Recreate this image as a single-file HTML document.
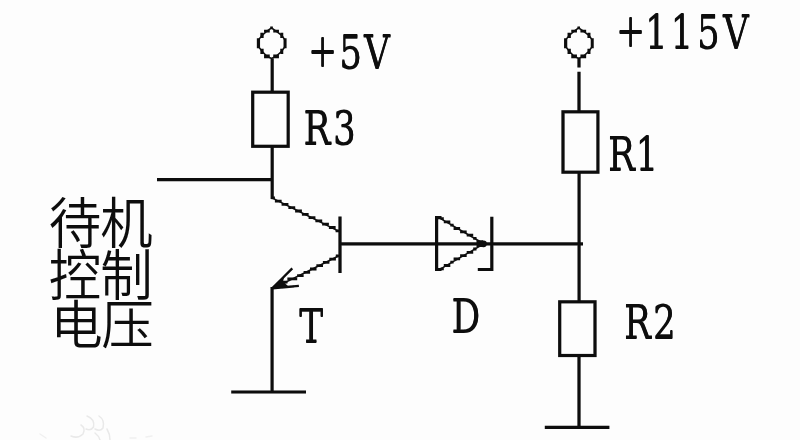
<!DOCTYPE html>
<html lang="zh-CN">
<head>
<meta charset="utf-8">
<title>待机控制电压</title>
<style>
  html, body { margin: 0; padding: 0; background: #fdfdfd; }
  body { width: 800px; height: 440px; overflow: hidden; }
  svg { display: block; }
  .w { fill: none; stroke: #0b0b0b; stroke-width: 3.2; stroke-linecap: butt; stroke-linejoin: miter; }
  .px { fill: #0b0b0b; }
  .j { fill: none; stroke: #0b0b0b; stroke-width: 1.5; }
  .d { stroke-width: 2.3; stroke-linejoin: round; }
  .lat { font-family: "DejaVu Serif", "Liberation Serif", serif; font-size: 47px; fill: #0b0b0b; text-anchor: middle; }
  .pl { font-family: "Liberation Serif", serif; font-size: 62px; }
  .cjk { font-family: "Liberation Sans", "Noto Sans CJK SC", sans-serif; font-size: 52.5px; font-weight: 350; fill: #0b0b0b; text-anchor: middle; }
</style>
</head>
<body>
<svg width="800" height="440" viewBox="0 0 800 440">
  <defs>
    <filter id="vthick" x="-5%" y="-20%" width="110%" height="140%">
      <feOffset in="SourceGraphic" dy="1.1" result="o"/>
      <feMerge><feMergeNode in="SourceGraphic"/><feMergeNode in="o"/></feMerge>
    </filter>
    <filter id="soft" x="0" y="0" width="800" height="440" filterUnits="userSpaceOnUse">
      <feGaussianBlur stdDeviation="0.55"/>
    </filter>
  </defs>
  <rect x="0" y="0" width="800" height="440" fill="#fdfdfd"/>
  <g filter="url(#soft)">

  <!-- left branch: +5V, R3, transistor T -->
  <path class="px" d="M270.25 26.45h2.60v2.80h-2.60z M264.05 29.75h5.70v2.70h-5.70z M273.25 29.75h5.70v2.70h-5.70z M260.35 32.85h3.30v5.20h-3.30z M280.25 32.85h3.00v5.20h-3.00z M256.85 38.35h3.20v10.00h-3.20z M283.55 38.35h3.00v10.00h-3.00z M260.35 48.65h3.30v5.40h-3.30z M280.25 48.65h3.00v5.40h-3.00z M264.05 54.45h5.70v3.70h-5.70z M273.25 54.45h5.70v3.70h-5.70z"/>
  <path class="j" d="M271.5 27.8 L266.9 31.1 L262.0 35.4 L258.4 40.0 L258.4 46.5 L262.0 51.3 L266.9 56.3 L271.5 58.4 L276.1 56.3 L281.7 51.3 L285.0 46.5 L285.0 40.0 L281.7 35.4 L276.1 31.1 Z"/>
  <path class="w" d="M272.2 58.4 V92"/>
  <rect class="w" x="252.7" y="92.2" width="35.5" height="54.1"/>
  <path class="w" d="M272.2 146.3 V199"/>
  <path class="px" d="M271.5 196.4h3.4v2.8h-3.4z M274.9 199.7h3.4v2.8h-3.4z M278.2 199.7h3.4v2.8h-3.4z M281.6 203.0h3.4v2.8h-3.4z M285.0 203.0h3.4v2.8h-3.4z M288.4 206.3h3.4v2.8h-3.4z M291.8 206.3h3.4v2.8h-3.4z M295.1 209.6h3.4v2.8h-3.4z M298.5 209.6h3.4v2.8h-3.4z M301.9 212.9h3.4v2.8h-3.4z M305.2 212.9h3.4v2.8h-3.4z M308.6 216.2h3.4v2.8h-3.4z M312.0 216.2h3.4v2.8h-3.4z M315.4 219.5h3.4v2.8h-3.4z M318.8 219.5h3.4v2.8h-3.4z M322.1 222.8h3.4v2.8h-3.4z M325.5 222.8h3.4v2.8h-3.4z M328.9 226.1h3.4v2.8h-3.4z M332.2 226.1h3.4v2.8h-3.4z M335.6 229.4h3.4v2.8h-3.4z"/>
  <path class="j" d="M272.5 198.2 L338.5 231.2"/>
  <path class="w" d="M157 179.6 H272.2"/>
  <path class="w" d="M340 216.5 V273"/>
  <path class="px" d="M335.8 254.4h3.3v2.8h-3.3z M332.6 257.7h3.3v2.8h-3.3z M329.3 257.7h3.3v2.8h-3.3z M326.1 261.0h3.3v2.8h-3.3z M322.9 261.0h3.3v2.8h-3.3z M319.7 264.3h3.3v2.8h-3.3z M316.4 264.3h3.3v2.8h-3.3z M313.2 267.6h3.3v2.8h-3.3z M310.0 267.6h3.3v2.8h-3.3z M306.8 270.9h3.3v2.8h-3.3z M303.6 270.9h3.3v2.8h-3.3z M300.3 274.2h3.3v2.8h-3.3z M297.1 274.2h3.3v2.8h-3.3z M293.9 277.5h3.3v2.8h-3.3z M290.7 277.5h3.3v2.8h-3.3z M287.4 277.5h3.3v2.8h-3.3z M284.2 280.8h3.3v2.8h-3.3z M281.0 280.8h3.3v2.8h-3.3z"/>
  <path class="j" d="M338.5 256 L282 284"/>
  <path class="w d" d="M292.3 268.4 L272.2 288.4 L298.9 285.9"/>
  <path d="M271.2 289.2 L284.5 275.5 L283 281.5 L288.5 286.5 Z" fill="#0b0b0b"/>
  <path class="w" d="M272.1 287 V392"/>
  <path class="w" d="M231.2 392 H306"/>

  <!-- base line, diode D -->
  <path class="w" d="M340 243.8 H583"/>
  <path class="w" d="M441.5 217.6 H436.6 V269.5 H441.5"/>
  <path class="px" d="M440.5 217.2h3.3v2.8h-3.3z M443.8 220.5h3.3v2.8h-3.3z M447.0 220.5h3.3v2.8h-3.3z M450.3 223.8h3.3v2.8h-3.3z M453.6 227.1h3.3v2.8h-3.3z M456.8 227.1h3.3v2.8h-3.3z M460.1 230.4h3.3v2.8h-3.3z M463.4 230.4h3.3v2.8h-3.3z M466.7 233.7h3.3v2.8h-3.3z M469.9 233.7h3.3v2.8h-3.3z M473.2 237.0h3.3v2.8h-3.3z M476.5 240.3h3.3v2.8h-3.3z M479.7 240.3h3.3v2.8h-3.3z"/>
  <path class="j" d="M441.5 219.2 L482.5 243"/>
  <path class="px" d="M440.5 267.4h3.3v2.8h-3.3z M443.8 264.1h3.3v2.8h-3.3z M447.0 264.1h3.3v2.8h-3.3z M450.3 260.8h3.3v2.8h-3.3z M453.6 257.5h3.3v2.8h-3.3z M456.8 257.5h3.3v2.8h-3.3z M460.1 254.2h3.3v2.8h-3.3z M463.4 254.2h3.3v2.8h-3.3z M466.7 250.9h3.3v2.8h-3.3z M469.9 250.9h3.3v2.8h-3.3z M473.2 247.6h3.3v2.8h-3.3z M476.5 244.3h3.3v2.8h-3.3z M479.7 244.3h3.3v2.8h-3.3z"/>
  <path class="j" d="M441.5 268.4 L482.5 244.6"/>
  <path class="w" d="M491.8 216.8 V269.5 H477.8"/>
  <circle cx="483.5" cy="243.8" r="3.4" fill="#0b0b0b"/>

  <!-- right branch: +115V, R1, R2 -->
  <path class="px" d="M577.45 26.45h2.60v2.80h-2.60z M571.25 29.75h5.70v2.70h-5.70z M580.45 29.75h5.70v2.70h-5.70z M567.55 32.85h3.30v5.20h-3.30z M587.45 32.85h3.00v5.20h-3.00z M564.05 38.35h3.20v10.00h-3.20z M590.75 38.35h3.00v10.00h-3.00z M567.55 48.65h3.30v5.40h-3.30z M587.45 48.65h3.00v5.40h-3.00z M571.25 54.45h5.70v3.70h-5.70z M580.45 54.45h5.70v3.70h-5.70z"/>
  <path class="j" d="M578.7 27.8 L574.1 31.1 L569.2 35.4 L565.6 40.0 L565.6 46.5 L569.2 51.3 L574.1 56.3 L578.7 58.4 L583.3 56.3 L588.9 51.3 L592.2 46.5 L592.2 40.0 L588.9 35.4 L583.3 31.1 Z"/>
  <path class="w" d="M579 57.7 V67.5 M579 71.7 V112"/>
  <rect class="w" x="563" y="111.8" width="34.9" height="60.4"/>
  <path class="w" d="M579.1 172.2 V301.8"/>
  <rect class="w" x="559.7" y="301.8" width="35.3" height="53.7"/>
  <path class="w" d="M579 355.5 V427.4"/>
  <path class="w" d="M544.8 427.4 H609.4"/>

  <!-- faint watermark swirls, bottom-left -->
  <g fill="none" stroke="#e9e9e9" stroke-width="1.5" stroke-linecap="round">
    <path d="M87 416 Q95 419 93.5 427 Q91 431 86 429"/>
    <path d="M99 416 Q105 420 103 428 Q100 432 95 429"/>
    <path d="M81 425 Q86 428 83 434 Q78 439 71 436"/>
    <path d="M95 433 Q99 436 100 440"/>
    <path d="M107 429 Q110 434 110 440"/>
    <path d="M40 434 L46 438" stroke="#f0f0f0"/>
    <path d="M130 438 H136 M146 437 L152 436" stroke="#f0f0f0"/>
  </g>

  <!-- labels -->
  <g filter="url(#vthick)" transform="translate(0,-0.6)">
  <text class="lat" transform="translate(0,68.8) scale(0.765,1)" x="421.8 458.3 492.8" y="3.5 0 0"><tspan class="pl">+</tspan>5V</text>
  <text class="lat" transform="translate(0,48.8) scale(0.765,1)" x="824.2 858.2 891.5 926.1 962.1" y="3.5 0 0 0 0"><tspan class="pl">+</tspan>115V</text>
  <text class="lat" transform="translate(0,144.8) scale(0.765,1)" x="414.4 450.3" y="0">R3</text>
  <text class="lat" transform="translate(0,170.8) scale(0.765,1)" x="812.4 845.8" y="0">R1</text>
  <text class="lat" transform="translate(0,338.8) scale(0.765,1)" x="833.3 868.6" y="0">R2</text>
  <text class="lat" transform="translate(0,342.3) scale(0.765,1)" x="406.8" y="0">T</text>
  <text class="lat" transform="translate(0,332.3) scale(0.765,1)" x="609.2" y="0">D</text>

  </g>
  <text class="cjk" transform="translate(0,242.5) scale(1,1.045)" x="75 126.5" y="0">待机</text>
  <text class="cjk" transform="translate(0,294.5) scale(1,1.045)" x="75 126.5" y="0">控制</text>
  <text class="cjk" transform="translate(0,343.5) scale(1,1.0)" x="76.5 127.5" y="0">电压</text>
  </g>
</svg>
</body>
</html>
